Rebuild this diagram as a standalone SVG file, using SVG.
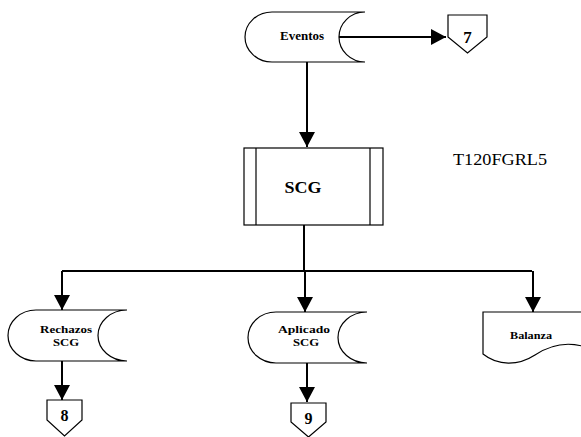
<svg xmlns="http://www.w3.org/2000/svg" width="581" height="437" viewBox="0 0 581 437">
<style>
.shape{fill:#fff;stroke:#000;stroke-width:1.2}
.conn{fill:none;stroke:#000;stroke-width:2}
.t{font-family:"Liberation Serif",serif;font-weight:bold;fill:#000;text-anchor:middle}
.n{font-weight:normal}
</style>
<defs>
<marker id="ah" markerUnits="userSpaceOnUse" markerWidth="16" markerHeight="16" refX="15" refY="8" orient="auto">
<path d="M0,0 L15,8 L0,16 Z" fill="#000"/>
</marker>
</defs>
<rect width="581" height="437" fill="#fff"/>
<g id="connectors">
<line class="conn" x1="338" y1="37" x2="446" y2="37" marker-end="url(#ah)"/>
<line class="conn" x1="307" y1="62" x2="307" y2="147" marker-end="url(#ah)"/>
<polyline class="conn" points="304,225 304,271"/>
<line class="conn" x1="62" y1="271" x2="532" y2="271"/>
<line class="conn" x1="62" y1="271" x2="62" y2="310" marker-end="url(#ah)"/>
<line class="conn" x1="305" y1="271" x2="305" y2="312" marker-end="url(#ah)"/>
<line class="conn" x1="533" y1="271" x2="533" y2="312" marker-end="url(#ah)"/>
<line class="conn" x1="62" y1="361" x2="62" y2="400" marker-end="url(#ah)"/>
<line class="conn" x1="307" y1="363" x2="307" y2="402" marker-end="url(#ah)"/>
</g>
<g id="eventos">
<path class="shape" d="M365,12 L272,12 A27,25 0 0 0 272,62 L365,62 A26,25 0 0 1 365,12"/>
<text class="t" x="302" y="40" font-size="12" textLength="44" lengthAdjust="spacingAndGlyphs">Eventos</text>
</g>
<g id="c7">
<path class="shape" d="M448,15 L487,15 L487,37 L467.5,53 L448,37 Z"/>
<text class="t" x="467.5" y="43" font-size="17">7</text>
</g>
<g id="scg">
<rect class="shape" x="244" y="148" width="139" height="77"/>
<line class="shape" x1="256" y1="148" x2="256" y2="225"/>
<line class="shape" x1="370" y1="148" x2="370" y2="225"/>
<text class="t" x="303" y="193" font-size="17" textLength="37" lengthAdjust="spacingAndGlyphs">SCG</text>
</g>
<text class="t n" x="500" y="165" font-size="16" textLength="94" lengthAdjust="spacingAndGlyphs">T120FGRL5</text>
<g id="rechazos">
<path class="shape" d="M127,310 L36,310 A28,25.5 0 0 0 36,361 L127,361 A29,25.5 0 0 1 127,310"/>
<text class="t" x="66" y="333" font-size="11" textLength="52" lengthAdjust="spacingAndGlyphs">Rechazos</text>
<text class="t" x="66" y="346" font-size="11" textLength="26" lengthAdjust="spacingAndGlyphs">SCG</text>
</g>
<g id="c8">
<path class="shape" d="M47,400 L82,400 L82,420 L64.5,436 L47,420 Z"/>
<text class="t" x="64.5" y="421" font-size="16">8</text>
</g>
<g id="aplicado">
<path class="shape" d="M367,312 L276,312 A28,25.5 0 0 0 276,363 L367,363 A29,25.5 0 0 1 367,312"/>
<text class="t" x="304" y="333" font-size="11" textLength="52" lengthAdjust="spacingAndGlyphs">Aplicado</text>
<text class="t" x="306" y="346" font-size="11" textLength="26" lengthAdjust="spacingAndGlyphs">SCG</text>
</g>
<g id="c9">
<path class="shape" d="M291,403 L326,403 L326,422 L308.5,437 L291,422 Z"/>
<text class="t" x="308.5" y="424" font-size="16">9</text>
</g>
<g id="balanza">
<path class="shape" d="M582,312 L483,312 L483,354 C498,366 518,366 535,355 C550,345 566,342 582,346"/>
<text class="t" x="531" y="339" font-size="11" textLength="42" lengthAdjust="spacingAndGlyphs">Balanza</text>
</g>
</svg>
